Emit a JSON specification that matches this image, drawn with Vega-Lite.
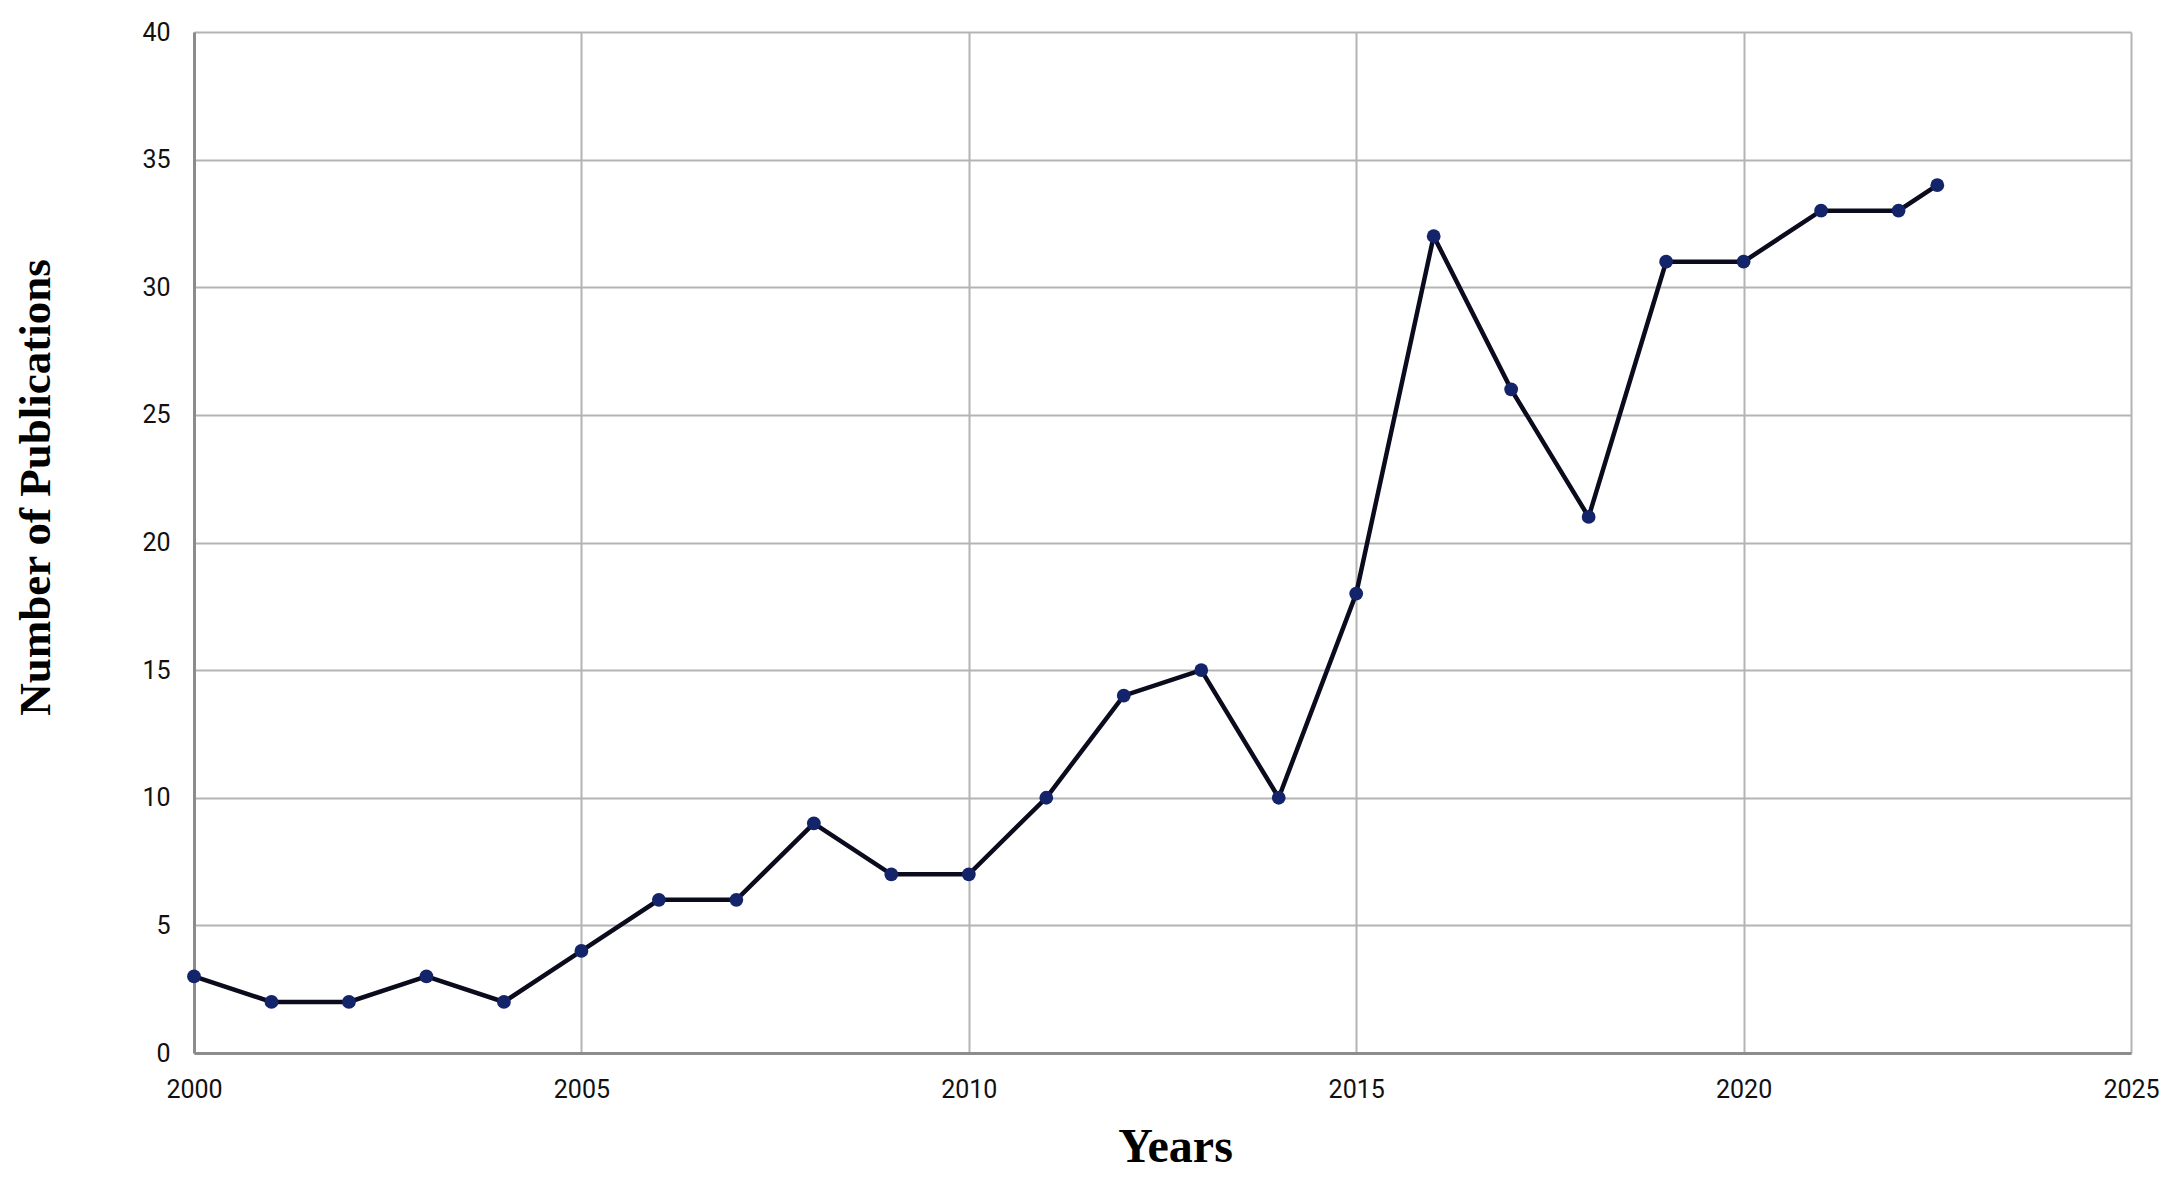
{
  "$schema": "https://vega.github.io/schema/vega-lite/v6.json",
  "width": 1937,
  "height": 1021,
  "autosize": {"type": "none"},
  "padding": {"left": 194, "top": 32, "right": 47, "bottom": 133},
  "background": "white",
  "config": {"view": {"stroke": null}},
  "data": {"values": [
    {"year": 2000, "count": 3},
    {"year": 2001, "count": 2},
    {"year": 2002, "count": 2},
    {"year": 2003, "count": 3},
    {"year": 2004, "count": 2},
    {"year": 2005, "count": 4},
    {"year": 2006, "count": 6},
    {"year": 2007, "count": 6},
    {"year": 2008, "count": 9},
    {"year": 2009, "count": 7},
    {"year": 2010, "count": 7},
    {"year": 2011, "count": 10},
    {"year": 2012, "count": 14},
    {"year": 2013, "count": 15},
    {"year": 2014, "count": 10},
    {"year": 2015, "count": 18},
    {"year": 2016, "count": 32},
    {"year": 2017, "count": 26},
    {"year": 2018, "count": 21},
    {"year": 2019, "count": 31},
    {"year": 2020, "count": 31},
    {"year": 2021, "count": 33},
    {"year": 2022, "count": 33},
    {"year": 2022.5, "count": 34}
  ]},
  "encoding": {
    "x": {
      "field": "year", "type": "quantitative",
      "scale": {"domain": [2000, 2025], "nice": false, "zero": false},
      "axis": {
        "title": "Years", "values": [2000, 2005, 2010, 2015, 2020, 2025], "format": "d",
        "grid": true, "gridColor": "#b4b4b4", "gridWidth": 2,
        "domainColor": "#8c8c8c", "domainWidth": 3, "ticks": false,
        "labelFont": "Roboto", "labelFontSize": 25, "labelColor": "#111111",
        "labelPadding": 24, "labelBaseline": "top", "labelFlush": false,
        "titleFont": "Liberation Serif, Times New Roman, serif", "titleFontSize": 48, "titleFontWeight": "bold", "titleColor": "#000000",
        "titleBaseline": "middle", "titleY": 94, "titleX": 981
      }
    },
    "y": {
      "field": "count", "type": "quantitative",
      "scale": {"domain": [0, 40], "nice": false},
      "axis": {
        "title": "Number of Publications", "values": [0, 5, 10, 15, 20, 25, 30, 35, 40],
        "grid": true, "gridColor": "#b4b4b4", "gridWidth": 2,
        "domainColor": "#8c8c8c", "domainWidth": 3, "ticks": false,
        "labelFont": "Roboto", "labelFontSize": 25, "labelColor": "#111111",
        "labelPadding": 24, "labelFlush": false,
        "titleFont": "Liberation Serif, Times New Roman, serif", "titleFontSize": 45, "titleFontWeight": "bold", "titleColor": "#000000",
        "titleBaseline": "middle", "titleX": -159, "titleY": 455
      }
    }
  },
  "layer": [
    {"mark": {"type": "line", "color": "#0b0b1e", "strokeWidth": 4.5}},
    {"mark": {"type": "point", "filled": true, "color": "#14246a", "opacity": 1, "size": 190}}
  ]
}
